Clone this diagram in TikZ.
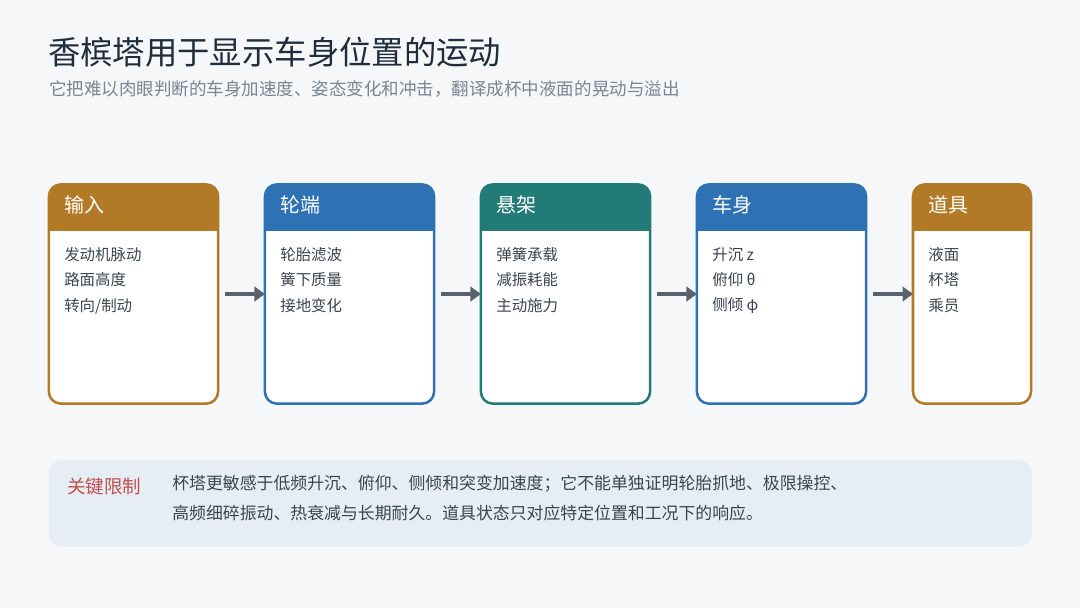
\documentclass[tikz,border=0pt]{standalone}
\usepackage{fontspec}
\setmainfont{Noto Sans CJK SC}
\usetikzlibrary{arrows.meta}
\definecolor{bg}{HTML}{F5F7F9}
\definecolor{amber}{HTML}{B27A27}
\definecolor{steel}{HTML}{2E72B4}
\definecolor{sea}{HTML}{237B78}
\definecolor{ink}{HTML}{1F2D3D}
\definecolor{mute}{HTML}{7A8594}
\definecolor{body}{HTML}{3A4550}
\definecolor{arr}{HTML}{58636F}
\definecolor{panel}{HTML}{E6EDF5}
\definecolor{warn}{HTML}{C0504D}
\tikzset{
  card/.style={rectangle,rounded corners=0.3cm,line width=1.8pt,draw=#1,fill=white,
    minimum width=4.23cm,minimum height=5.48cm,outer sep=0pt,
    path picture={\fill[#1,sharp corners] (path picture bounding box.north west)
      rectangle ([yshift=-1.17cm]path picture bounding box.north east);}},
}

\begin{document}
\begin{tikzpicture}[x=0.025cm,y=-0.025cm]
\path[fill=bg,use as bounding box] (0,0) rectangle (1080,608);
\begin{scope}[every node/.style={anchor=west,inner sep=0}]
    \node[text=ink,font=\fontsize{23}{27}\selectfont] (T) at (48,52) {香槟塔用于显示车身位置的运动};
    \node[text=mute,font=\fontsize{12.45}{15}\selectfont] (S) at (49,89) {它把难以肉眼判断的车身加速度、姿态变化和冲击，翻译成杯中液面的晃动与溢出};
\end{scope}
\node[card=amber] (A) at (133.5,294) {};
\node[card=steel] (B) at (349.5,294) {};
\node[card=sea] (C) at (565.5,294) {};
\node[card=steel] (D) at (781.5,294) {};
\node[card=amber,minimum width=2.95cm] (E) at (972,294) {};
\begin{scope}[every node/.style={anchor=west,inner sep=0,text=white,font=\fontsize{14.2}{17}\selectfont}]
    \node (HA) at (64,205) {输入};
    \node (HB) at (280,205) {轮端};
    \node (HC) at (496,205) {悬架};
    \node (HD) at (712,205) {车身};
    \node (HE) at (928,205) {道具};
\end{scope}
\begin{scope}[every node/.style={anchor=north west,inner sep=0,align=left,text=body,font=\fontsize{11}{18.1}\selectfont}]
    \node (BA) at (64,247) {发动机脉动\\路面高度\\转向/制动};
    \node (BB) at (280,247) {轮胎滤波\\簧下质量\\接地变化};
    \node (BC) at (496,247) {弹簧承载\\减振耗能\\主动施力};
    \node (BD) at (712,247) {升沉 z\\俯仰 θ\\侧倾 φ};
    \node (BE) at (928,247) {液面\\杯塔\\乘员};
\end{scope}
\begin{scope}[>={Triangle[length=0.26cm,width=0.36cm]},
              every edge/.style={draw=arr,line width=2.4pt,shorten <=0.18cm}]
    \path [->] (A) edge (B);
    \path [->] (B) edge (C);
    \path [->] (C) edge (D);
    \path [->] (D) edge (E);
\end{scope}
% limits
\node[rectangle,rounded corners=0.35cm,fill=panel,minimum width=24.575cm,minimum height=2.175cm] (L) at (540.5,503.5) {};
\node[anchor=west,inner sep=0,text=warn,font=\fontsize{13.2}{16}\selectfont] (K) at (67,486) {关键限制};
\node[anchor=north west,inner sep=0,align=left,text=body,font=\fontsize{12}{21.3}\selectfont] (M) at (172,475) {杯塔更敏感于低频升沉、俯仰、侧倾和突变加速度；它不能单独证明轮胎抓地、极限操控、\\高频细碎振动、热衰减与长期耐久。道具状态只对应特定位置和工况下的响应。};
\end{tikzpicture}
\end{document}
